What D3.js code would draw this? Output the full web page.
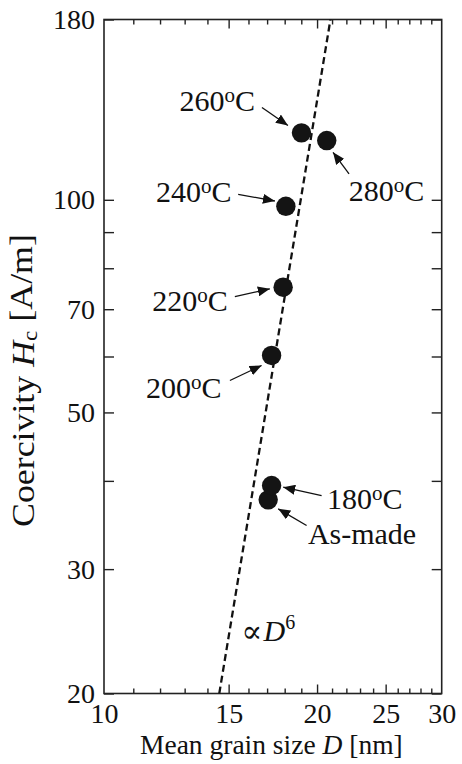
<!DOCTYPE html>
<html>
<head>
<meta charset="utf-8">
<script src="https://cdn.jsdelivr.net/npm/d3@7"></script>
<style>
  html, body { margin: 0; padding: 0; background: #fff; }
  svg { display: block; }
  text { font-family: "Liberation Serif", "Times New Roman", serif; fill: #111; }
</style>
</head>
<body>
<svg id="chart" width="462" height="764"></svg>
<script>
// ---------- data ----------
const sampleLabels = ["As-made", "180", "200", "220", "240", "260", "280"];
const grainSize    = [17.06, 17.25, 17.25, 17.91, 18.07, 19.01, 20.64];   // D [nm]
const coercivity   = [37.6, 39.4, 60.2, 75.2, 97.9, 124.4, 121.3];       // Hc [A/m]

const fitD = [14.55, 20.89];   // dashed  ∝ D^6 guide line
const fitH = [20, 180];

const xTickLabels = [10, 15, 20, 25, 30];
const xMajorTicks = [15, 20, 25];
const xMinorTicks = [11, 12, 13, 14, 16, 17, 18, 19, 21, 22, 23, 24, 26, 27, 28, 29];
const yTickLabels = [20, 30, 50, 70, 100, 180];
const yMinorTicks = [40, 60, 80, 90];

const fitLabelPos = { D: 15.64, H: 23.7 };

// ---------- layout (pixel offsets of annotation text / arrows relative to the point) ----------
const annLayout = {
  "As-made": { anchor: "start", tx: 39.7, ty: 43.7, ax: 38.4, ay: 25.7, bx: 10, by: 9 },
  "180":     { anchor: "start", tx: 55.3, ty: 23,   ax: 50,   ay: 10,   bx: 11.6, by: 1.7 },
  "200":     { anchor: "end",   tx: -50,  ty: 43,   ax: -41.7, ay: 25,  bx: -10, by: 10 },
  "220":     { anchor: "end",   tx: -55.3, ty: 23.3, ax: -48.3, ay: 9.3, bx: -13.3, by: 1.6 },
  "240":     { anchor: "end",   tx: -54.3, ty: -4.3, ax: -47.7, ay: -12, bx: -11, by: -5.3 },
  "260":     { anchor: "end",   tx: -46.5, ty: -22,  ax: -39.5, ay: -25.3, bx: -13.5, by: -7.3 },
  "280":     { anchor: "start", tx: 22,   ty: 60,   ax: 22.3, ay: 33.3, bx: 6.3, by: 11.7 }
};

const L = 104, R = 441.7, T = 19.5, B = 693.5;
const svg = d3.select("#chart");

const x = d3.scaleLog().domain([10, 30]).range([L, R]);
const y = d3.scaleLog().domain([20, 180]).range([B, T]);

const axisColor = "#222";
const fmt = d => String(d);
const serif = '"Liberation Serif", "Times New Roman", serif';

function styleAxis(g) {
  g.select(".domain").remove();
  g.selectAll(".tick line").attr("stroke", axisColor).attr("stroke-width", 1.4);
}

// bottom ticks
svg.append("g").attr("transform", `translate(0,${B})`)
  .call(d3.axisBottom(x).tickValues(xMinorTicks).tickSize(-5).tickFormat(""))
  .call(styleAxis);
svg.append("g").attr("transform", `translate(0,${B})`)
  .call(d3.axisBottom(x).tickValues(xMajorTicks).tickSize(-9).tickFormat(""))
  .call(styleAxis);
// top ticks
svg.append("g").attr("transform", `translate(0,${T})`)
  .call(d3.axisTop(x).tickValues(xMinorTicks).tickSize(-5).tickFormat(""))
  .call(styleAxis);
svg.append("g").attr("transform", `translate(0,${T})`)
  .call(d3.axisTop(x).tickValues(xMajorTicks).tickSize(-9).tickFormat(""))
  .call(styleAxis);
// bottom labels
const xl = svg.append("g").attr("transform", `translate(0,${B})`)
  .call(d3.axisBottom(x).tickValues(xTickLabels).tickSize(0).tickPadding(10).tickFormat(fmt));
xl.select(".domain").remove();
xl.selectAll("text").attr("font-size", 28).attr("dy", "0.71em")
  .style("font-family", serif).attr("fill", "#111");

// left ticks + labels
const yl = svg.append("g").attr("transform", `translate(${L},0)`)
  .call(d3.axisLeft(y).tickValues(yTickLabels.concat(yMinorTicks)).tickSize(-10).tickPadding(9)
    .tickFormat(d => yTickLabels.includes(d) ? fmt(d) : ""))
  .call(styleAxis);
yl.selectAll("text").attr("font-size", 28)
  .style("font-family", serif).attr("fill", "#111");
// right ticks
svg.append("g").attr("transform", `translate(${R},0)`)
  .call(d3.axisRight(y).tickValues(yTickLabels.concat(yMinorTicks)).tickSize(-10).tickFormat(""))
  .call(styleAxis);

// frame
svg.append("rect").attr("x", L).attr("y", T).attr("width", R - L).attr("height", B - T)
  .attr("fill", "none").attr("stroke", axisColor).attr("stroke-width", 1.6);

// axis titles
const xt = svg.append("text").attr("x", (L + R) / 2 - 1.5).attr("y", 754)
  .attr("text-anchor", "middle").attr("font-size", 27.5);
xt.append("tspan").text("Mean grain size ");
xt.append("tspan").attr("font-style", "italic").text("D");
xt.append("tspan").text(" [nm]");

// y title: fitted so it spans from y=527 (start) up to y=234
const yTitleStart = 527, yTitleEnd = 234, yTitleBase = 33.5;
const yt = svg.append("text").attr("text-anchor", "start").attr("font-size", 28);
yt.append("tspan").text("Coercivity ");
yt.append("tspan").attr("font-style", "italic").text("H");
yt.append("tspan").attr("font-size", "0.65em").attr("dy", "0.18em").text("c");
yt.append("tspan").attr("dy", "-0.18em").text(" [A/m]");
const len28 = yt.node().getComputedTextLength();
const fsY = 28 * (yTitleStart - yTitleEnd) / len28;
yt.attr("font-size", fsY);
const sx = Math.min(1, 21 / (0.66 * fsY));
yt.attr("transform", `translate(${yTitleBase},${yTitleStart}) scale(${sx},1) rotate(-90)`);

// dashed fit line
const fitData = fitD.map((d, i) => ({ D: d, H: fitH[i] }));
svg.append("path").datum(fitData)
  .attr("d", d3.line().x(d => x(d.D)).y(d => y(d.H)))
  .attr("fill", "none").attr("stroke", "#111").attr("stroke-width", 2.3)
  .attr("stroke-dasharray", "7,4");

// ∝ D^6 label
const fl = svg.append("text").attr("x", x(fitLabelPos.D)).attr("y", y(fitLabelPos.H))
  .attr("font-size", 30);
fl.append("tspan").style("font-family", '"DejaVu Serif", serif').attr("font-size", 31).attr("dy", 1).text("∝");
fl.append("tspan").attr("font-style", "italic").attr("dy", -1).attr("dx", 1).text("D");
fl.append("tspan").attr("font-size", 20).attr("dy", -12).text("6");

// arrow marker
const defs = svg.append("defs");
defs.append("marker").attr("id", "ah").attr("viewBox", "0 0 12 10")
  .attr("refX", 12).attr("refY", 5).attr("markerWidth", 12).attr("markerHeight", 10)
  .attr("markerUnits", "userSpaceOnUse").attr("orient", "auto")
  .append("path").attr("d", "M0,0 L12,5 L0,10 Z").attr("fill", "#111");

const pts = sampleLabels.map((s, i) => ({ s, D: grainSize[i], H: coercivity[i] }));

// points
svg.append("g").selectAll("circle").data(pts).join("circle")
  .attr("cx", d => x(d.D)).attr("cy", d => y(d.H)).attr("r", 9.7)
  .attr("fill", "#141414");

// annotations
const ann = svg.append("g");
pts.forEach(p => {
  const lay = annLayout[p.s];
  const px = x(p.D), py = y(p.H);
  ann.append("line")
    .attr("x1", px + lay.ax).attr("y1", py + lay.ay)
    .attr("x2", px + lay.bx).attr("y2", py + lay.by)
    .attr("stroke", "#111").attr("stroke-width", 1.3).attr("marker-end", "url(#ah)");
  const t = ann.append("text").attr("x", px + lay.tx).attr("y", py + lay.ty)
    .attr("text-anchor", lay.anchor).attr("font-size", 30);
  if (p.s === "As-made") {
    t.text("As-made");
  } else {
    t.append("tspan").text(p.s);
    t.append("tspan").attr("font-size", 21).attr("dy", -9).text("o");
    t.append("tspan").attr("font-size", 30).attr("dy", 9).text("C");
  }
});
</script>
</body>
</html>
